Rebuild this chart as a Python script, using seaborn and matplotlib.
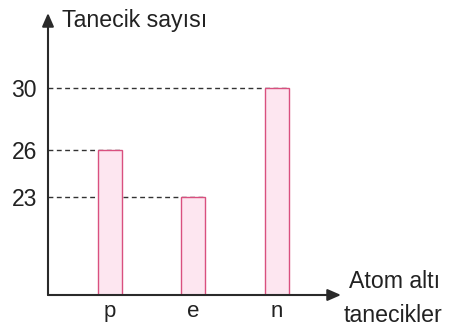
import matplotlib
matplotlib.use("Agg")
import matplotlib.pyplot as plt
import seaborn as sns
import pandas as pd

# Atom altı tanecik sayıları
particles = ["p", "e", "n"]
counts = [26, 23, 30]
tick_values = [23, 26, 30]

sns.set_style("white")
plt.rcParams["font.family"] = ["Liberation Sans", "DejaVu Sans"]

W, H = 453, 327
fig = plt.figure(figsize=(W / 100, H / 100), dpi=100)
ax = fig.add_axes([48 / W, (H - 295) / H, (341 - 48) / W, (295 - 13) / H])

df = pd.DataFrame({"tanecik": particles, "sayi": counts})
bar_w = 0.29
sns.barplot(data=df, x="tanecik", y="sayi", ax=ax, width=bar_w,
            color="#fde6f0", edgecolor="#d9507f", linewidth=1.0,
            saturation=1, zorder=3)

xmin, xmax = -0.74, 2.77
ax.set_xlim(xmin, xmax)
ax.set_ylim(16.77, 34.78)

# kesikli yardımcı çizgiler: eksenden çubuğun sağ üst köşesine
for i, v in enumerate(counts):
    ax.hlines(v, xmin, i + bar_w / 2, colors="#333333", linestyles=(0, (3.5, 2.5)),
              linewidth=1.0, zorder=2)

for s in ax.spines.values():
    s.set_visible(False)

ax.set_yticks(tick_values)
ax.set_yticklabels([str(v) for v in tick_values])
ax.tick_params(axis="y", length=0, pad=8, labelsize=16.5, labelcolor="#222222")
ax.tick_params(axis="x", length=0, pad=4, labelsize=16, labelcolor="#222222")
ax.set_xlabel("")
ax.set_ylabel("")

# oklu eksenler
arrow = dict(arrowstyle="-|>,head_length=0.8,head_width=0.35", color="#2a2a2a",
             lw=1.5, shrinkA=0, shrinkB=0)
ax.annotate("", xy=(0, 1), xytext=(0, 0), xycoords="axes fraction",
            arrowprops=arrow, annotation_clip=False)
ax.annotate("", xy=(1, 0), xytext=(0, 0), xycoords="axes fraction",
            arrowprops=arrow, annotation_clip=False)

fig.text(62 / W, 1 - 20 / H, "Tanecik sayısı", fontsize=16.7, color="#222222",
         ha="left", va="center")
fig.text(395 / W, 1 - 282 / H, "Atom altı", fontsize=16.7, color="#222222",
         ha="center", va="center")
fig.text(393 / W, 1 - 315 / H, "tanecikler", fontsize=16.7, color="#222222",
         ha="center", va="center")

fig.savefig("out.png", dpi=100)
